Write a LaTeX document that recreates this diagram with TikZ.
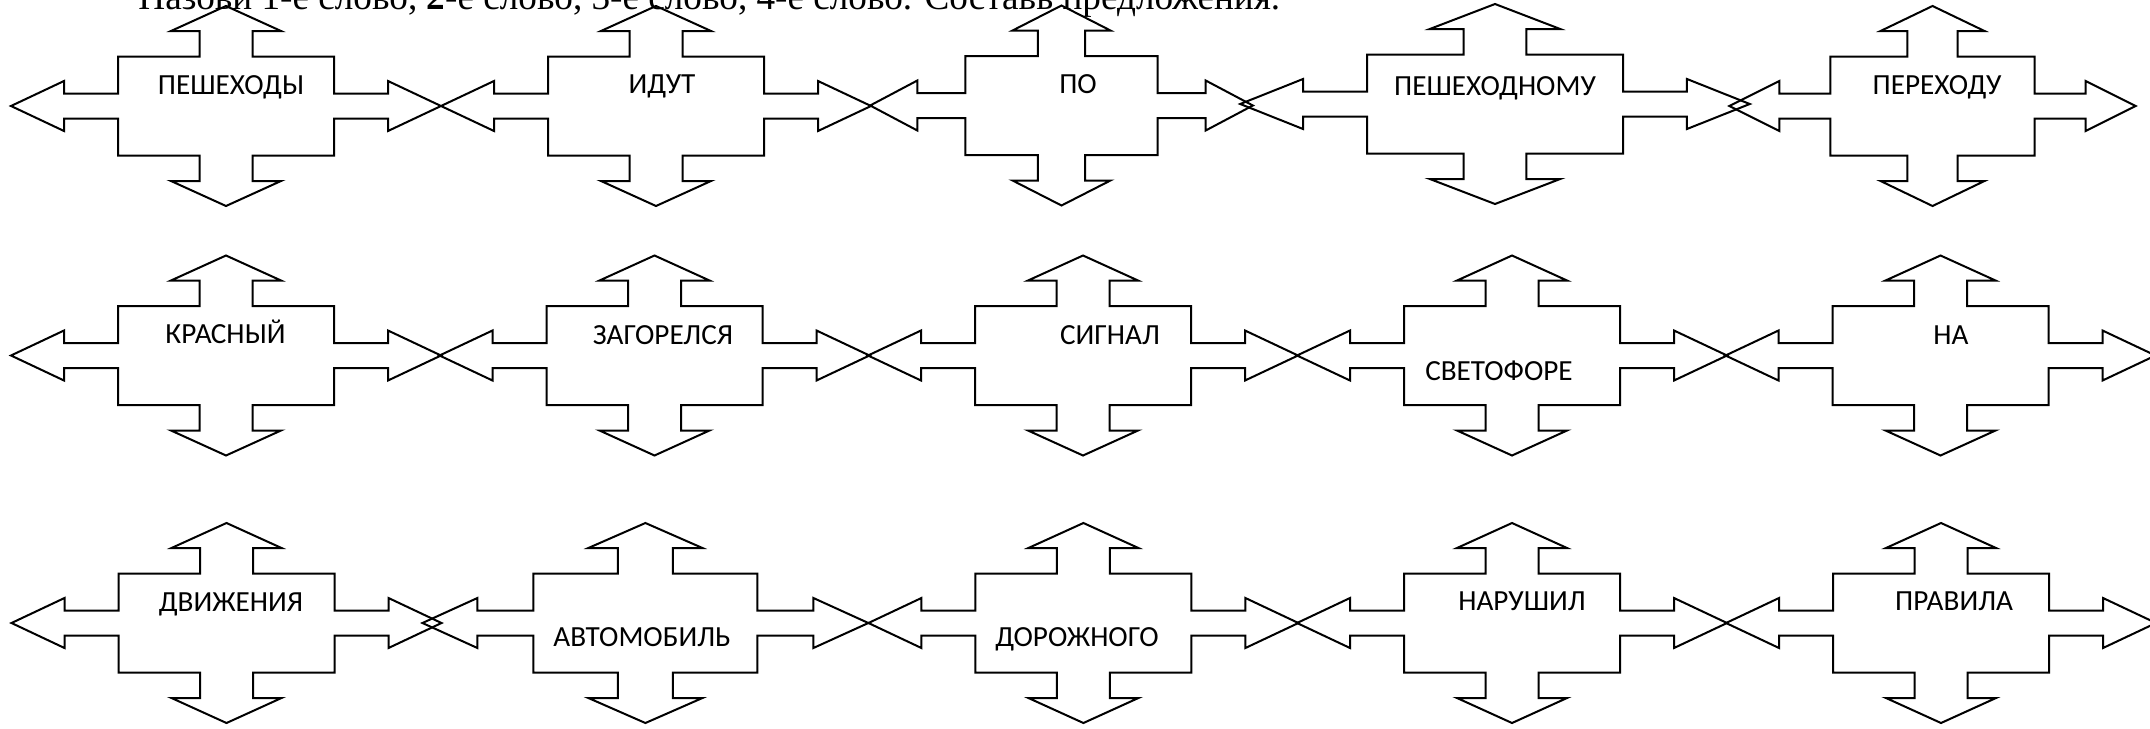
\documentclass[tikz,border=0pt]{standalone}
\usepackage{fontspec}
\setmainfont{Carlito}
\newfontfamily\serifru{Liberation Serif}
\tikzset{
  wordarrow/.pic={
    \draw[line width=1pt, line join=miter]
      (0,-100) -- (55,-75) -- (26.5,-75) -- (26.5,-49.5) -- (108,-49.5) -- (108,-12.5)
      -- (162,-12.5) -- (162,-25) -- (215,0) -- (162,25) -- (162,12.5) -- (108,12.5)
      -- (108,49.5) -- (26.5,49.5) -- (26.5,75) -- (55,75) -- (0,100) -- (-55,75)
      -- (-26.5,75) -- (-26.5,49.5) -- (-108,49.5) -- (-108,12.5) -- (-162,12.5)
      -- (-162,25) -- (-215,0) -- (-162,-25) -- (-162,-12.5) -- (-108,-12.5)
      -- (-108,-49.5) -- (-26.5,-49.5) -- (-26.5,-75) -- (-55,-75) -- cycle;
  },
  lbl/.style={anchor=base, inner sep=0pt, font=\fontsize{14.6}{17}\selectfont},
  titletext/.style={anchor=base west, inner sep=0pt, font=\serifru\fontsize{18.6}{22}\selectfont}
}
\begin{document}
\begin{tikzpicture}[x=0.5pt,y=-0.5pt]
\useasboundingbox (0,0) rectangle (2150,728);
\clip (0,0) rectangle (2150,728);

\node[titletext] (title) at (138,10) {Назови 1-е слово, \textbf{2}-е слово, 3-е слово, 4-е слово. Составь предложения.};

% row 1
\pic at (226,106) {wordarrow};
\pic at (656,106) {wordarrow};
\pic[xscale=0.89] at (1061.5,105.5) {wordarrow};
\pic[xscale=1.185] at (1495,104) {wordarrow};
\pic[xscale=0.945] at (1932.5,106) {wordarrow};
\node[lbl] (w11) at (231,94) {ПЕШЕХОДЫ};
\node[lbl] (w12) at (662,93.5) {ИДУТ};
\node[lbl] (w13) at (1078,93.5) {ПО};
\node[lbl] (w14) at (1495,95) {ПЕШЕХОДНОМУ};
\node[lbl] (w15) at (1937,94) {ПЕРЕХОДУ};

% row 2
\pic at (226,355.5) {wordarrow};
\pic at (654.5,355.5) {wordarrow};
\pic at (1083,355.5) {wordarrow};
\pic at (1512,355.5) {wordarrow};
\pic at (1940.5,355.5) {wordarrow};
\node[lbl] (w21) at (225.5,343.5) {КРАСНЫЙ};
\node[lbl] (w22) at (663,344) {ЗАГОРЕЛСЯ};
\node[lbl] (w23) at (1110,344) {СИГНАЛ};
\node[lbl] (w24) at (1499,380) {СВЕТОФОРЕ};
\node[lbl] (w25) at (1951,344) {НА};

% row 3
\pic at (226.5,623) {wordarrow};
\pic[xscale=1.037] at (645.4,623) {wordarrow};
\pic at (1083.4,623) {wordarrow};
\pic at (1512,623) {wordarrow};
\pic at (1941,623) {wordarrow};
\node[lbl] (w31) at (231,611) {ДВИЖЕНИЯ};
\node[lbl] (w32) at (642,646.5) {АВТОМОБИЛЬ};
\node[lbl] (w33) at (1077,646.5) {ДОРОЖНОГО};
\node[lbl] (w34) at (1522,610.5) {НАРУШИЛ};
\node[lbl] (w35) at (1954,610.5) {ПРАВИЛА};
\end{tikzpicture}
\end{document}
